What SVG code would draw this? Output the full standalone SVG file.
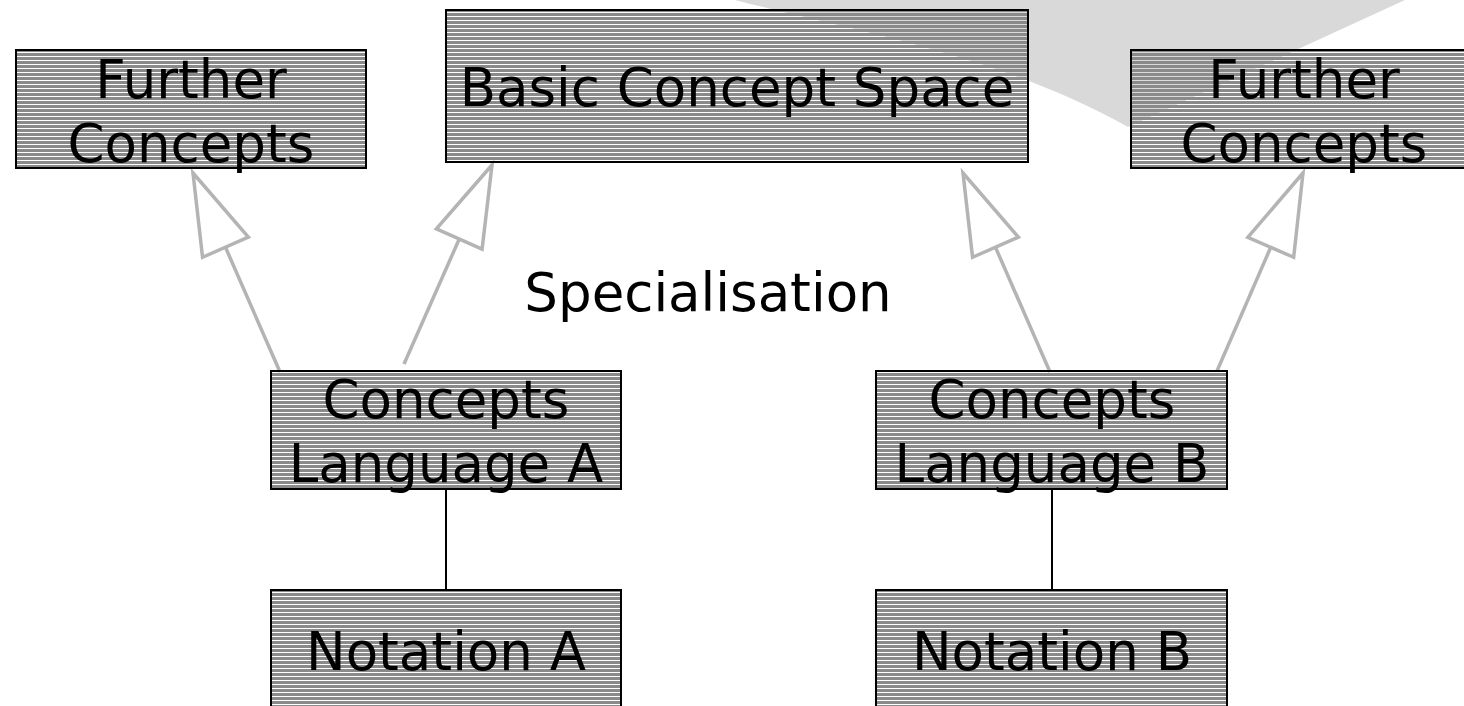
<svg xmlns="http://www.w3.org/2000/svg" width="1464" height="706" viewBox="0 0 1464 706">
  <defs>
    <!-- horizontal hatch used as the box fill; the gaps stay open -->
    <pattern id="hatch" x="0" y="0" width="8" height="4" patternUnits="userSpaceOnUse">
      <rect x="0" y="1" width="8" height="3" fill="#8a8a8a"/>
    </pattern>
    <!-- hollow triangle head for generalisation arrows -->
    <marker id="hollow" markerUnits="userSpaceOnUse" markerWidth="120" markerHeight="120" refX="0" refY="0" orient="auto" overflow="visible" viewBox="-100 -50 120 100">
      <path d="M 0 0 L -81 -25 L -81 25 Z" fill="#ffffff" stroke="#b4b4b4" stroke-width="3.5" stroke-linejoin="miter"/>
    </marker>
    <style>
      .box { fill: url(#hatch); stroke: #000000; stroke-width: 2; }
      .lbl { font-family: "DejaVu Sans", Verdana, sans-serif; font-size: 53px; fill: #000000; text-anchor: middle; }
      .gen { stroke: #b4b4b4; stroke-width: 3.5; fill: none; marker-end: url(#hollow); }
      .link { stroke: #000000; stroke-width: 2; fill: none; }
    </style>
  </defs>

  <rect x="0" y="0" width="1464" height="706" fill="#ffffff"/>

  <!-- decorative light swoosh in the upper background -->
  <path d="M 735 0 C 850 30 1000 55 1128 127 L 1405 0 Z" fill="#d9d9d9"/>

  <g id="connectors">
    <line class="gen" x1="280" y1="372" x2="193" y2="173"/>
    <line class="gen" x1="404" y1="364" x2="492" y2="165"/>
    <line class="gen" x1="1050" y1="372" x2="963" y2="173"/>
    <line class="gen" x1="1217" y1="371" x2="1303" y2="173"/>
    <line class="link" x1="446" y1="489" x2="446" y2="590"/>
    <line class="link" x1="1052" y1="489" x2="1052" y2="590"/>
  </g>

  <g id="further-concepts-left">
    <rect class="box" x="16" y="50" width="350" height="118"/>
    <text class="lbl" x="191" y="98">Further</text>
    <text class="lbl" x="191" y="162">Concepts</text>
  </g>

  <g id="basic-concept-space">
    <rect class="box" x="446" y="10" width="582" height="152"/>
    <text class="lbl" x="737" y="106">Basic Concept Space</text>
  </g>

  <g id="further-concepts-right">
    <rect class="box" x="1131" y="50" width="350" height="118"/>
    <text class="lbl" x="1304" y="98">Further</text>
    <text class="lbl" x="1304" y="162">Concepts</text>
  </g>

  <g id="specialisation-label">
    <text class="lbl" x="708" y="311">Specialisation</text>
  </g>

  <g id="concepts-language-a">
    <rect class="box" x="271" y="371" width="350" height="118"/>
    <text class="lbl" x="446" y="418">Concepts</text>
    <text class="lbl" x="446" y="482">Language A</text>
  </g>

  <g id="concepts-language-b">
    <rect class="box" x="876" y="371" width="351" height="118"/>
    <text class="lbl" x="1052" y="418">Concepts</text>
    <text class="lbl" x="1052" y="482">Language B</text>
  </g>

  <g id="notation-a">
    <rect class="box" x="271" y="590" width="350" height="130"/>
    <text class="lbl" x="446" y="670">Notation A</text>
  </g>

  <g id="notation-b">
    <rect class="box" x="876" y="590" width="351" height="130"/>
    <text class="lbl" x="1052" y="670">Notation B</text>
  </g>
</svg>
